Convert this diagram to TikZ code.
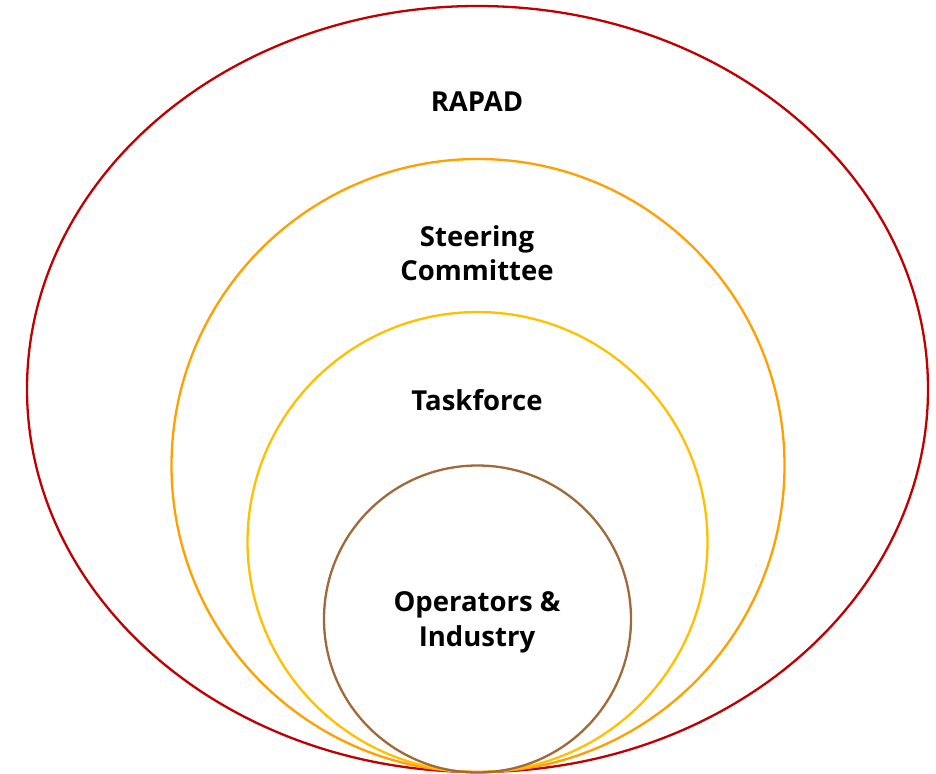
\documentclass[tikz,border=0pt]{standalone}
\usepackage{fontspec}
\setmainfont{Open Sans}
\definecolor{rapadred}{HTML}{C00000}
\definecolor{steerorange}{HTML}{FFA000}
\definecolor{taskyellow}{HTML}{FFC000}
\definecolor{opbrown}{HTML}{A0693A}
\begin{document}
\begin{tikzpicture}[x=1pt,y=-1pt,
  ring/.style={line width=2.3pt},
  lbl/.style={font=\fontsize{27.5}{34.5}\selectfont\bfseries, align=center, text=black, inner sep=0pt}]
\useasboundingbox (0,0) rectangle (936,773);
% nested groups, all touching at the bottom
\draw[ring, rapadred] (477.5,389) ellipse [x radius=450.5, y radius=383];
\draw[ring, steerorange] (478,465.5) circle [radius=306.5];
\draw[ring, taskyellow] (477.5,542) circle [radius=230];
\draw[ring, opbrown] (477.5,619) circle [radius=153.5];
% labels
\node[lbl] (rapad) at (477,101.5) {RAPAD};
\node[lbl] (steer) at (477,253) {Steering\\Committee};
\node[lbl] (task) at (477,400.5) {Taskforce};
\node[lbl] (ops) at (477,622.5) {Operators \&\\Industry};
\end{tikzpicture}
\end{document}
